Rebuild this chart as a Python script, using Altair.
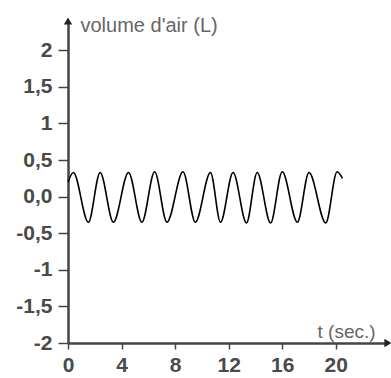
import altair as alt
import pandas as pd

# Sampled extrema of the breathing curve (time in s, volume in L)
t_vals = [0.0, 0.40, 1.52, 2.40, 3.39, 4.52, 5.52, 6.47, 7.39, 8.59, 9.51, 10.64,
          11.39, 12.33, 13.33, 14.13, 15.13, 16.0, 17.13, 18.0, 19.25, 20.1, 20.5]
v_vals = [0.20, 0.33, -0.35, 0.33, -0.35, 0.33, -0.35, 0.34, -0.35, 0.34, -0.35, 0.33,
          -0.35, 0.33, -0.36, 0.33, -0.36, 0.34, -0.35, 0.33, -0.36, 0.34, 0.25]

x_ticks = [0, 2, 4, 6, 8, 10, 12, 14, 16, 18, 20, 22]
x_labelled = [0, 4, 8, 12, 16, 20]
y_ticks = [2, 1.5, 1, 0.5, 0, -0.5, -1, -1.5, -2]
y_labels = ["2", "1,5", "1", "0,5", "0,0", "-0,5", "-1", "-1,5", "-2"]
x_domain = [0, 23.9]
y_domain = [-2, 2.4]
x_title = "t (sec.)"
y_title = "volume d'air (L)"

df = pd.DataFrame({"t": t_vals, "v": v_vals})

y_expr = " : ".join(f"datum.value == {v} ? '{l}'" for v, l in zip(y_ticks, y_labels)) + " : ''"
x_expr = " : ".join(f"datum.value == {v} ? '{v}'" for v in x_labelled) + " : ''"

axis_color = "#444444"
label_color = "#4a4a4a"
label_font = "Liberation Sans"

x_scale = alt.Scale(domain=x_domain, nice=False, zero=False)
y_scale = alt.Scale(domain=y_domain, nice=False, zero=False)

line = alt.Chart(df).mark_line(color="black", strokeWidth=1.6, interpolate="monotone").encode(
    x=alt.X("t:Q", scale=x_scale,
            axis=alt.Axis(values=x_ticks, labelExpr=x_expr, grid=False,
                          domainColor=axis_color, domainWidth=2.5, tickColor=axis_color,
                          tickWidth=1.5, tickSize=6, labelFontSize=21, labelFont=label_font,
                          labelFontWeight="bold", labelColor=label_color, labelPadding=5,
                          labelFlush=False,
                          title=x_title, titleFont=label_font, titleFontSize=19,
                          titleFontWeight="normal", titleColor="#666666",
                          titleX=249, titleY=-6, titleAlign="left",
                          titleBaseline="alphabetic", titleAnchor="start")),
    y=alt.Y("v:Q", scale=y_scale,
            axis=alt.Axis(values=y_ticks, labelExpr=y_expr, grid=False,
                          domainColor=axis_color, domainWidth=2.5, tickColor=axis_color,
                          tickWidth=1.5, tickSize=10, labelFontSize=21, labelFont=label_font,
                          labelFontWeight="bold", labelColor=label_color, labelPadding=6,
                          labelFlush=False,
                          title=y_title, titleFont=label_font, titleFontSize=20,
                          titleFontWeight="normal", titleColor="#666666", titleAngle=0,
                          titleX=12, titleY=10, titleAlign="left",
                          titleBaseline="alphabetic", titleAnchor="start")),
)

arrow_df = pd.DataFrame({
    "x": [x_domain[0], x_domain[1]],
    "y": [y_domain[1], y_domain[0]],
    "shape": ["triangle-up", "triangle-right"],
})
arrows = alt.Chart(arrow_df).mark_point(filled=True, color="#222222", size=70, opacity=1).encode(
    x=alt.X("x:Q", scale=x_scale),
    y=alt.Y("y:Q", scale=y_scale),
    shape=alt.Shape("shape:N", scale=None, legend=None),
)

chart = alt.layer(line, arrows).properties(
    width=320, height=322,
    autosize=alt.AutoSizeParams(type="none"),
    padding={"left": 68, "top": 21, "right": 3, "bottom": 35},
    background="white",
).configure_view(stroke=None)

chart.save("out.html", embed_options={"renderer": "svg", "actions": False})
